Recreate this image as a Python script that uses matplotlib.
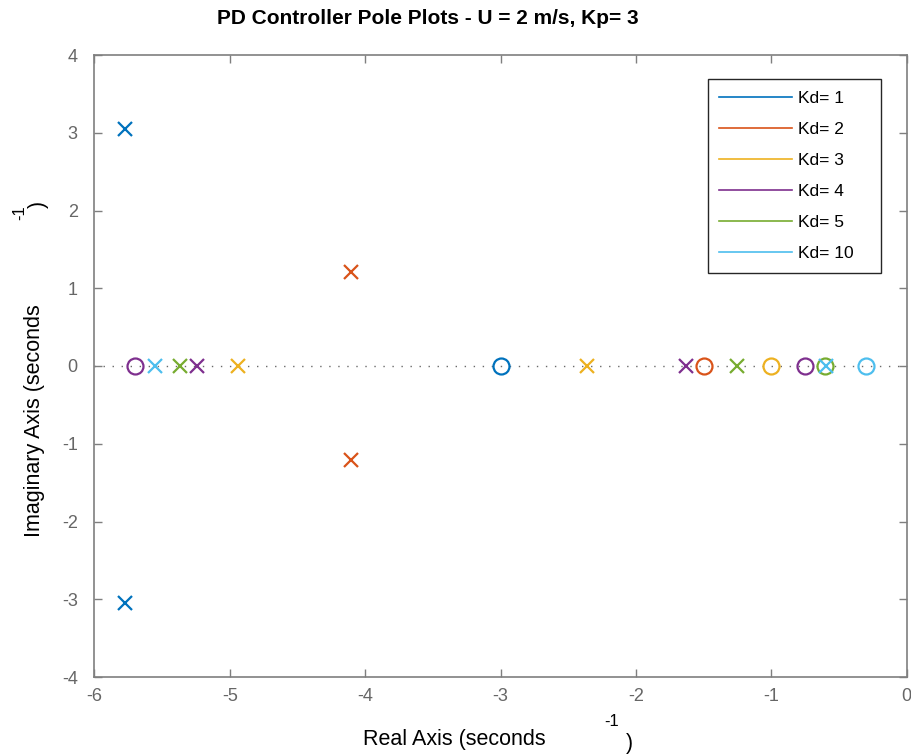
import matplotlib.pyplot as plt
from matplotlib.lines import Line2D

# Pole / zero locations for each derivative gain (Kp = 3, U = 2 m/s)
kd_labels = ['Kd= 1', 'Kd= 2', 'Kd= 3', 'Kd= 4', 'Kd= 5', 'Kd= 10']
colors = ['#0072BD', '#D95319', '#EDB120', '#7E2F8E', '#77AC30', '#4DBEEE']

pole_re = [
    [-5.775, -5.775],
    [-4.104, -4.104],
    [-4.936, -2.359],
    [-5.241, -1.630],
    [-5.367, -1.257],
    [-5.552, -0.597],
]
pole_im = [
    [3.05, -3.05],
    [1.21, -1.21],
    [0.0, 0.0],
    [0.0, 0.0],
    [0.0, 0.0],
    [0.0, 0.0],
]
zero_re = [
    [-3.0],
    [-1.5],
    [-1.0],
    [-0.75, -5.70],
    [-0.6],
    [-0.3],
]

W, H = 911, 755
plt.rcParams['font.family'] = ['Liberation Sans', 'DejaVu Sans']
plt.rcParams['axes.unicode_minus'] = False
fig = plt.figure(figsize=(W / 100, H / 100), dpi=100)
ax = fig.add_axes([94.3 / W, 1 - 677 / H, 812.4 / W, 622 / H])

grey = '#7f7f7f'
ax.axhline(0, color='#6a6a6a', linestyle=(0, (1, 5.5)), linewidth=1.0, zorder=1)

for i in range(len(kd_labels)):
    ax.plot(pole_re[i], pole_im[i], linestyle='none', marker='x', markersize=9.5,
            markeredgewidth=1.6, color=colors[i], zorder=3)
    ax.plot(zero_re[i], [0.0] * len(zero_re[i]), linestyle='none', marker='o',
            markersize=11.5, markeredgewidth=1.6, markerfacecolor='none',
            markeredgecolor=colors[i], zorder=3)

ax.set_xlim(-6, 0)
ax.set_ylim(-4, 4)
ax.set_xticks(range(-6, 1))
ax.set_yticks(range(-4, 5))
ax.tick_params(direction='in', length=6, width=1, colors=grey, labelsize=13,
               top=True, right=True, labelcolor='#666666')
ax.tick_params(axis='y', pad=12)
ax.tick_params(axis='x', pad=8)
for sp in ax.spines.values():
    sp.set_color(grey)
    sp.set_linewidth(1.2)

handles = [Line2D([0], [0], color=c, linewidth=1.2) for c in colors]
leg = ax.legend(handles, kd_labels, loc='upper left',
                bbox_to_anchor=(0.7554, 0.961 - 0.32, 0.213, 0.32), mode='expand',
                borderaxespad=0, fontsize=12.5, handlelength=4.2, handletextpad=0.35,
                labelspacing=0.92, borderpad=0.65, fancybox=False, framealpha=1)
leg.get_frame().set_edgecolor('#262626')
leg.get_frame().set_linewidth(1.0)

def px(x, y):
    return x / W, 1 - y / H

# Title and axis labels (MATLAB-style split superscript)
fig.text(*px(428, 18), 'PD Controller Pole Plots - U = 2 m/s, Kp= 3', fontsize=15,
         fontweight='bold', ha='center', va='center')
fig.text(*px(454, 740), 'Real Axis (seconds', fontsize=15.5, ha='center', va='center')
fig.text(*px(612, 721), '-1', fontsize=12, ha='center', va='center')
fig.text(*px(629, 744), ')', fontsize=15.5, ha='center', va='center')
fig.text(*px(35, 421), 'Imaginary Axis (seconds', fontsize=15.5, ha='center',
         va='center', rotation=90)
fig.text(*px(20, 213), '-1', fontsize=12, ha='center', va='center', rotation=90)
fig.text(*px(38, 204), ')', fontsize=15.5, ha='center', va='center', rotation=90)

fig.savefig('out.png', dpi=100)
